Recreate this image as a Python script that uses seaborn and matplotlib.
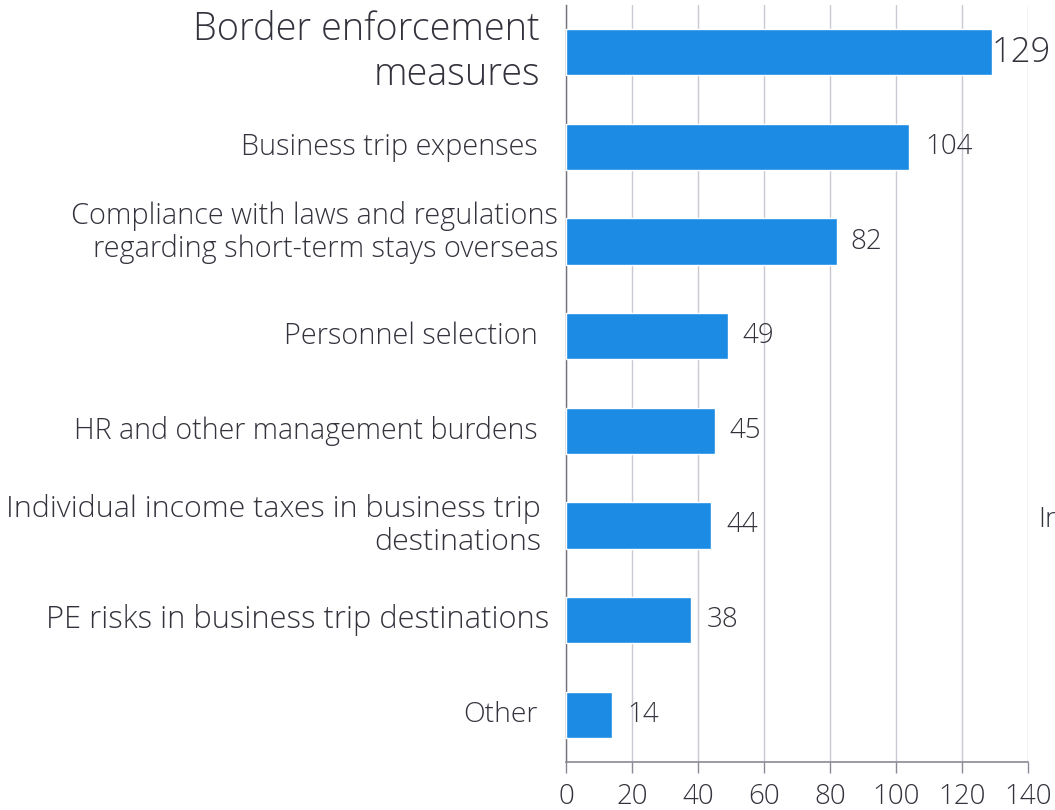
import matplotlib
matplotlib.use("Agg")
import matplotlib.pyplot as plt
import matplotlib.transforms as mtransforms
import seaborn as sns
import pandas as pd

categories = [
    "Border enforcement\nmeasures",
    "Business trip expenses",
    "Compliance with laws and regulations\nregarding short-term stays overseas",
    "Personnel selection",
    "HR and other management burdens",
    "Individual income taxes in business trip\ndestinations",
    "PE risks in business trip destinations",
    "Other",
]
counts = [129, 104, 82, 49, 45, 44, 38, 14]
x_ticks = [0, 20, 40, 60, 80, 100, 120, 140]

# per-label styling: right edge offset (px from axis), vertical shift (px), font size, line spacing
label_pad = [26, 28, 8, 28, 28, 25, 17, 28]
label_shift = [0, 0, 9, 0, 0, 0, 0, 0]
label_size = [27.3, 20.8, 20.8, 20.8, 20.6, 21.9, 22.2, 20.4]
label_spacing = [1.22, 1.2, 1.15, 1.2, 1.2, 1.15, 1.2, 1.2]
value_pad = [0, 16, 14, 15, 15, 15, 15, 15]
value_size = [25, 20, 20, 20, 20, 20, 20, 20]

sns.set_theme(style="white")
plt.rcParams["font.family"] = ["Open Sans", "DejaVu Sans"]

text_color = "#33333d"
bar_color = "#1b8be3"
weight = "light"

df = pd.DataFrame({"category": categories, "count": counts})

fig = plt.figure(figsize=(10.55, 8.1), dpi=100)
ax = fig.add_axes([566 / 1055, 48 / 810, 462 / 1055, 757 / 810])

sns.barplot(data=df, x="count", y="category", orient="h", color=bar_color,
            width=0.49, saturation=1, ax=ax, zorder=3)

ax.set_xlim(0, 140)
ax.set_ylim(len(categories) - 0.5, -0.5)
ax.set_xticks(x_ticks)
ax.set_xticklabels([str(t) for t in x_ticks], fontsize=20, color=text_color,
                   fontweight=weight)
ax.tick_params(axis="x", length=8, width=1, color="#8a8a96", pad=7, direction="out",
               bottom=True)
ax.set_yticks([])
ax.set_xlabel("")
ax.set_ylabel("")

ax.grid(axis="x", color="#c9c9d3", linewidth=1, zorder=0)
for side in ["top", "right"]:
    ax.spines[side].set_visible(False)
ax.spines["left"].set_color("#70707a")
ax.spines["left"].set_linewidth(1)
ax.spines["bottom"].set_color("#8a8a96")
ax.spines["bottom"].set_linewidth(1.2)

blend = mtransforms.blended_transform_factory(ax.transAxes, ax.transData)
for i, (cat, val) in enumerate(zip(categories, counts)):
    off = mtransforms.offset_copy(blend, fig=fig, x=-label_pad[i] * 72 / 100,
                                  y=label_shift[i] * 72 / 100, units="points")
    ax.text(0, i, cat, transform=off, ha="right", va="center", fontweight=weight,
            fontsize=label_size[i], color=text_color, linespacing=label_spacing[i])
    voff = mtransforms.offset_copy(ax.transData, fig=fig, x=value_pad[i] * 72 / 100, y=0,
                                   units="points")
    ax.text(val, i, str(val), transform=voff, ha="left", va="center", fontweight=weight,
            fontsize=value_size[i], color=text_color, clip_on=False)

fig.text(1038 / 1055, 1 - 520 / 810, "In", fontsize=20, color=text_color,
         ha="left", va="center", fontweight=weight)

fig.savefig("out.png", dpi=100)
